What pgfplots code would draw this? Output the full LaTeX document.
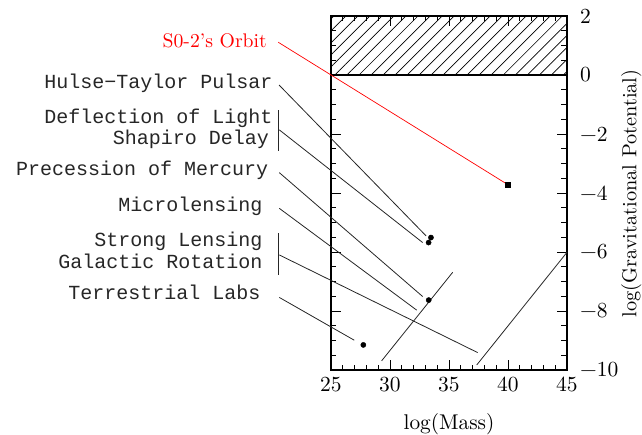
\documentclass[border=0pt]{standalone}
\usepackage{pgfplots}
\pgfplotsset{compat=1.18}
\usepackage{fontspec}
\setmainfont{lmroman10-regular}[Extension=.otf]
\usetikzlibrary{patterns.meta}
\newfontfamily\labfont{Liberation Mono}
\begin{document}
\begin{tikzpicture}
\begin{axis}[
  scale only axis, width=236pt, height=354pt,
  xmin=25, xmax=45, ymin=-10, ymax=2,
  clip=false,
  axis line style={line width=1.1pt},
  xtick={25,30,35,40,45},
  xticklabels={25,30,35,40,45},
  ytick={-10,-8,-6,-4,-2,0,2},
  yticklabels={−10,−8,−6,−4,−2,0,2},
  minor x tick num=4, minor y tick num=3,
  tick align=inside,
  major tick length=10pt, minor tick length=5.5pt,
  tick style={line width=0.9pt, black},
  yticklabel pos=right,
  xtick pos=both, ytick pos=both,
  ticklabel style={font=\fontsize{21.5}{26}\selectfont, inner sep=0pt},
  xticklabel style={anchor=north, yshift=-6.5pt},
  yticklabel style={anchor=west, xshift=13pt},
  xlabel={log(Mass)},
  xlabel style={font=\fontsize{21.3}{25}\selectfont, at={(axis description cs:0.5,-0.169)}, anchor=base},
  ylabel={log(Gravitational Potential)},
  ylabel style={font=\fontsize{20.3}{25}\selectfont, at={(axis description cs:1.272,0.499)}, anchor=center},
]
% hatched region
\addplot[draw=none, pattern={Lines[angle=45,distance=8.5pt,line width=0.7pt]}] coordinates {(25,0) (45,0) (45,2) (25,2)} \closedcycle;
\addplot[black, line width=1.1pt] coordinates {(25,0) (45,0)};
% red orbit line
\addplot[red, line width=0.7pt] coordinates {(20.53,1.11) (40,-3.72)};
% leader lines
\addplot[black!85, line width=0.8pt] coordinates {(20.6,-0.34) (33.05,-5.45)};
\addplot[black!85, line width=0.8pt] coordinates {(20.62,-1.86) (32.77,-5.68)};
\addplot[black!85, line width=0.8pt] coordinates {(20.57,-1.19) (20.57,-2.57)};
\addplot[black!85, line width=0.8pt] coordinates {(20.62,-3.31) (32.77,-7.51)};
\addplot[black!85, line width=0.8pt] coordinates {(20.62,-4.52) (32.26,-7.97)};
\addplot[black!85, line width=0.8pt] coordinates {(20.57,-5.37) (20.57,-6.78)};
\addplot[black!85, line width=0.8pt] coordinates {(20.62,-6.10) (37.43,-9.41)};
\addplot[black!85, line width=0.8pt] coordinates {(20.62,-7.54) (26.97,-8.99)};
% two unlabeled lines
\addplot[black!85, line width=0.8pt] coordinates {(29.29,-9.69) (35.31,-6.69)};
\addplot[black!85, line width=0.8pt] coordinates {(37.35,-9.83) (45,-6.01)};
% points
\addplot[only marks, mark=*, mark size=2.6pt, black] coordinates {(33.47,-5.51) (33.27,-5.68) (33.28,-7.63) (27.74,-9.15)};
\addplot[only marks, mark=square*, mark size=2.5pt, black] coordinates {(40,-3.72)};
% labels
\node[anchor=base east, text=red, font=\fontsize{19.7}{24}\selectfont, inner sep=0pt] at (axis cs:19.58,0.94) {S0-2's Orbit};
\begin{scope}[every node/.style={anchor=base east, inner sep=0pt, font=\labfont\fontsize{20}{24}\selectfont, text=black!85}]
\node at (axis cs:20.06,-0.45) {Hulse−Taylor Pulsar};
\node at (axis cs:20.06,-1.64) {Deflection of Light};
\node at (axis cs:19.75,-2.34) {Shapiro Delay};
\node at (axis cs:19.69,-3.42) {Precession of Mercury};
\node at (axis cs:19.21,-4.63) {Microlensing};
\node at (axis cs:19.21,-5.82) {Strong Lensing};
\node at (axis cs:19.21,-6.55) {Galactic Rotation};
\node at (axis cs:19.04,-7.60) {Terrestrial Labs};
\end{scope}
\coordinate (O) at (rel axis cs:0,0);
\end{axis}
\pgfresetboundingbox
\path[use as bounding box] ([shift={(-331pt,-64pt)}]O) rectangle ++(642pt,434pt);
\end{tikzpicture}
\end{document}
